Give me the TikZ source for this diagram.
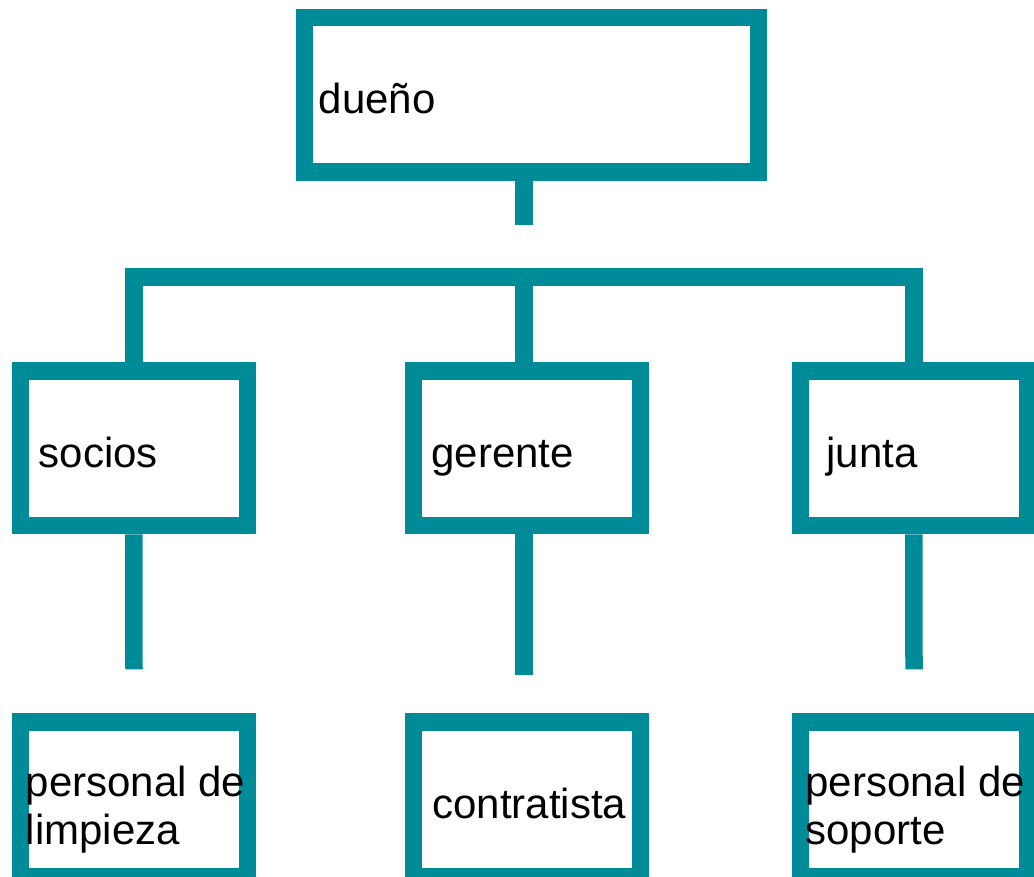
\documentclass[tikz,border=0pt]{standalone}
\usepackage{fontspec}
\setmainfont{Liberation Sans}
\definecolor{orgteal}{RGB}{0,139,153}
\tikzset{
  caja/.style={draw=orgteal, line width=8.75pt, minimum width=113.5pt,
    minimum height=77.3pt, inner sep=0pt},
  rotulo/.style={anchor=base west, inner sep=0pt, align=left,
    font=\fontsize{21}{24}\selectfont},
  rama/.style={draw=orgteal, line width=8.75pt}
}
\begin{document}
\begin{tikzpicture}[x=0.5pt, y=-0.5pt]
    \useasboundingbox (0,0) rectangle (1034,877);
    % cajas
    \node[caja, minimum width=227.2pt, minimum height=77.25pt] (dueno) at (531.5,95) {};
    \node[caja] (socios) at (133.9,448.4) {};
    \node[caja] (gerente) at (527.2,448.4) {};
    \node[caja] (junta) at (913.9,448.4) {};
    \node[caja, minimum height=77.5pt] (limpieza) at (133.9,799.5) {};
    \node[caja, minimum height=77.5pt] (contratista) at (527.2,799.5) {};
    \node[caja, minimum height=77.5pt] (soporte) at (913.9,799.5) {};
    % textos
    \node[rotulo] (dueno-t) at (318.5,113.3) {dueño};
    \node[rotulo] (socios-t) at (38.5,467.3) {socios};
    \node[rotulo] (gerente-t) at (431,467.3) {gerente};
    \node[rotulo] (junta-t) at (826,467.3) {junta};
    \node[rotulo] (limpieza-t) at (25.5,844) {personal de\\limpieza};
    \node[rotulo] (contratista-t) at (432,818.3) {contratista};
    \node[rotulo] (soporte-t) at (805,844) {personal de\\soporte};
    % ramas
    \coordinate (dueno-cola) at (524,225.3);
    \coordinate (cruce) at (524,277);
    \coordinate (socios-cola) at (134,669.3);
    \coordinate (gerente-cola) at (524,675);
    \coordinate (junta-cola) at (914,669.3);
    \draw[rama] (dueno-cola |- dueno.south) -- (dueno-cola);
    \draw[rama] (socios.north) |- (cruce) -| (junta.north);
    \draw[rama] (cruce) -- (cruce |- gerente.north);
    \draw[rama] (socios.south) -- (socios-cola);
    \draw[rama] (gerente-cola |- gerente.south) -- (gerente-cola);
    \draw[rama] (junta.south) -- (junta-cola);
\end{tikzpicture}
\end{document}
